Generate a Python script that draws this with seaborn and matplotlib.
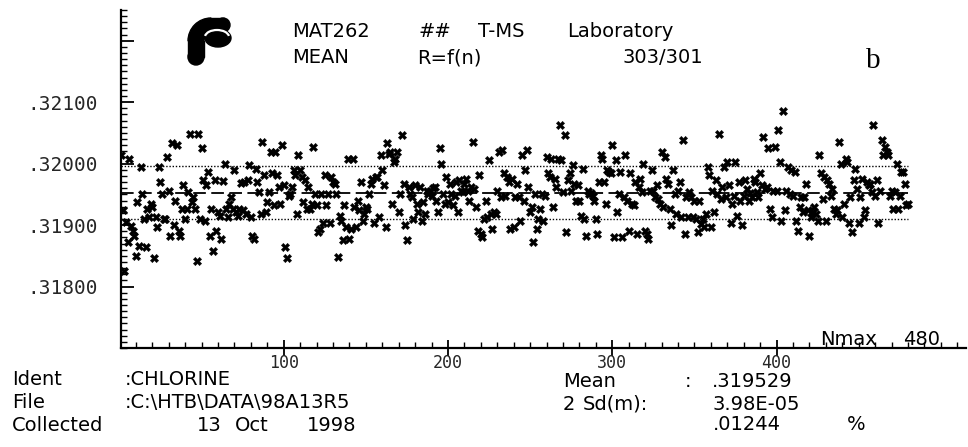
import numpy as np
import pandas as pd
import matplotlib
matplotlib.use("Agg")
import matplotlib.pyplot as plt
import seaborn as sns
from matplotlib.ticker import MultipleLocator, FixedLocator
from matplotlib.patches import Wedge, Rectangle, Circle, Ellipse, Arc

# ---- data (ratio R = BASE + offset * UNIT) ----
BASE = 0.31900
UNIT = 1e-5

offsets_n001_094 = [
    114, 24, -75, 5, -28, 108, -1, -9, -17, -50,
    37, -34, 94, 51, 10, -36, 26, 13, 34, 29,
    -53, 13, -3, 94, 70, 51, 10, 10, 111, 56,
    -17, 133, 0, 40, 130, -9, -17, 26, 65, 10,
    26, 54, 149, 37, 45, 26, -58, 149, 10, 125,
    73, 7, 65, 86, -17, 26, -42, 74, -9, 21,
    15, -23, 72, 100, 26, 13, 34, 45, 26, 89,
    21, 15, 26, 68, 24, 70, 18, 73, 97, 13,
    -17, -23, 92, 70, 54, 18, 136, 81, 21, 37,
    54, 119, 84, 32]

offsets_n095_191 = [
    119, 81, 62, 35, 130, 65, -35, -54, 48, 51,
    62, 89, 81, 18, 114, 89, 78, 37, 73, 26,
    62, 26, 34, 127, 51, 32, -12, -6, 51, 4,
    81, 32, 51, 4, 78, 70, 67, 51, -52, 15,
    7, -25, 32, -3, 108, -23, -6, 108, 29, -3,
    40, 24, 70, 7, 18, 29, 26, 51, 67, 75,
    4, 78, 78, 13, 114, 89, 65, -3, 133, 116,
    119, 34, 103, 108, 119, 21, 51, 146, 67, 0,
    -25, 62, 51, 45, 10, 65, 34, 21, 62, 7,
    37, 18, 56, 50, 55, 48, 60]

offsets_n192_288 = [
    62, 40, 21, 125, 100, 51, 35, 78, 37, 67,
    51, 32, 48, 70, 21, 73, 56, 54, 67, 75,
    56, 40, 62, 136, 59, 29, -9, 81, -15, -20,
    10, 40, 13, 106, 18, -6, 21, 18, 56, 119,
    45, 122, 84, 48, 78, 70, -6, 75, -3, 45,
    67, 45, 7, 114, 40, 89, 122, 62, 21, 29,
    -28, 51, -6, 10, 26, 51, 7, 48, 111, 84,
    78, 108, 29, 75, 62, 108, 163, 106, 54, 146,
    -12, 73, 84, 56, 97, 67, 40, 65, 40, 15,
    92, 10, -17, 56, 50, 53, 47]

offsets_n289_385 = [
    40, 10, -15, 70, 114, 108, 70, 34, 89, 86,
    84, 130, -20, 106, 21, 51, 86, -20, 45, 114,
    40, -9, 84, 34, 32, 70, -15, 62, 75, 54,
    100, -9, -15, -23, 56, 89, 56, 45, 65, 43,
    34, 119, 29, 111, 75, 67, 26, 0, 89, 51,
    18, 56, 70, 13, 138, -15, 45, 13, 54, 45,
    13, 40, 10, -12, 40, 2, 10, -3, 18, 95,
    81, -3, 56, 21, 73, 51, 149, 43, 62, 95,
    45, 103, 65, 4, 34, 48, 103, 15, 70, 40,
    0, 48, 73, 59, 40, 52, 46]

offsets_n386_480 = [
    75, 70, 54, 45, 84, 65, 144, 59, 62, 125,
    26, 13, 56, 127, 56, 155, 103, 7, 185, 24,
    56, 95, 51, 89, 48, 86, 7, -9, 29, 45,
    21, 45, 67, 24, -17, 13, 21, 29, 18, 7,
    114, 84, 43, 78, 7, 73, 67, 48, 59, 26,
    18, 24, 136, 100, 13, 34, 108, 103, 4, 45,
    -12, 73, 92, 59, 4, 45, 75, 13, 24, 70,
    65, 67, 54, 163, 48, 73, 4, 56, 138, 114,
    127, 119, 114, 48, 56, 26, 54, 100, 26, 48,
    86, 86, 67, 32, 34]

MEAN = 0.319529          # dashed centre line
BAND = 0.000427          # dotted lines at MEAN +/- BAND
Y_TICKS = [0.318, 0.319, 0.320, 0.321, 0.322]
Y_TICK_LABELS = [".31800", ".31900", ".32000", ".32100", ""]
X_TICKS = [100, 200, 300, 400]
X_TICK_LABELS = ["100", "200", "300", "400"]

offsets = (offsets_n001_094 + offsets_n095_191 + offsets_n192_288
           + offsets_n289_385 + offsets_n386_480)
values = BASE + UNIT * np.array(offsets, dtype=float)
n = np.arange(1, len(values) + 1)
df = pd.DataFrame({"n": n, "R": values})

# ---- figure ----
sns.set_style("ticks")
plt.rcParams["font.family"] = ["DejaVu Sans"]
plt.rcParams.update({
    "xtick.minor.visible": True, "ytick.minor.visible": True,
    "xtick.minor.size": 4, "ytick.minor.size": 4,
    "xtick.minor.width": 1.0, "ytick.minor.width": 1.0,
    "xtick.direction": "in", "ytick.direction": "in",
})
fig = plt.figure(figsize=(9.68, 4.47), dpi=100)
ax = fig.add_axes([121 / 968, 99 / 447, 845 / 968, 338 / 447])

ax.hlines([MEAN - BAND, MEAN + BAND], 1, len(values), colors="black",
          linestyles=(0, (1, 1.3)), lw=1.0, zorder=2)
ax.hlines(MEAN, 1, len(values), colors="black",
          linestyles=(0, (7, 3)), lw=1.3, zorder=2)
sns.scatterplot(data=df, x="n", y="R", ax=ax, marker="X", s=36,
                color="black", edgecolor="black", linewidth=0.3,
                zorder=3, legend=False)

ax.set_xlim(1, 515.3)
ax.set_ylim(0.3170, 0.3225)
ax.set_xlabel("")
ax.set_ylabel("")
for s in ["top", "right"]:
    ax.spines[s].set_visible(False)
for s in ["left", "bottom"]:
    ax.spines[s].set_linewidth(1.6)
    ax.spines[s].set_color("black")

ax.minorticks_on()
ax.yaxis.set_major_locator(FixedLocator(Y_TICKS))
ax.yaxis.set_minor_locator(MultipleLocator(0.0001))
ax.set_yticklabels(Y_TICK_LABELS, fontfamily="DejaVu Sans Mono", fontsize=14)
ax.xaxis.set_major_locator(FixedLocator(X_TICKS))
ax.xaxis.set_minor_locator(MultipleLocator(10))
ax.set_xticklabels(X_TICK_LABELS, fontfamily="DejaVu Sans Mono", fontsize=12)

ax.yaxis.set_tick_params(which="major", left=True, right=False, direction="in",
                         length=9, width=1.3, pad=17, color="black")
ax.yaxis.set_tick_params(which="minor", left=True, right=False, direction="in",
                         length=4, width=1.0, color="black")
ax.xaxis.set_tick_params(which="major", bottom=True, top=False, direction="inout",
                         length=12, width=1.3, pad=-2, color="black")
ax.xaxis.set_tick_params(which="minor", bottom=True, top=False, direction="in",
                         length=4, width=1.0, color="black")

# ---- overlay in pixel coordinates for header/footer text and logo ----
ov = fig.add_axes([0, 0, 1, 1])
ov.set_xlim(0, 968)
ov.set_ylim(447, 0)
ov.axis("off")
ov.patch.set_visible(False)

def t(x, y, s, size=14, **kw):
    ov.text(x, y, s, fontsize=size, ha="left", va="baseline",
            color="black", **kw)

# logo
ov.add_patch(Wedge((211, 41), 23, 180, 270, width=16, color="black"))
ov.add_patch(Rectangle((188, 41), 16, 16, color="black"))
ov.add_patch(Circle((196, 57), 8, color="black"))
ov.add_patch(Rectangle((210, 18), 14, 14, color="black"))
ov.add_patch(Circle((223, 25), 7, color="black"))
ov.add_patch(Ellipse((218, 38), 26, 18, color="black"))
ov.add_patch(Arc((217, 37), 24, 14, theta1=185, theta2=355, color="white", lw=1.6))

# header
t(292, 37, "MAT262")
t(418, 37, "##")
t(478, 37, "T-MS")
t(567, 37, "Laboratory")
t(292, 63, "MEAN")
t(417, 63, "R=f(n)")
t(623, 63, "303/301")
t(866, 68, "b", size=21, family="Liberation Serif")

# footer left
t(12, 385, "Ident")
t(125, 385, ":CHLORINE")
t(12, 408, "File")
t(125, 408, ":C:\\HTB\\DATA\\98A13R5")
t(12, 431, "Collected")
t(197, 431, "13")
t(235, 431, "Oct")
t(307, 431, "1998")

# footer right
t(820, 345, "Nmax")
t(903, 345, f"{len(values)}")
t(563, 387, "Mean")
t(685, 387, ":")
t(712, 387, f"{MEAN:.6f}".lstrip("0"))
t(563, 410, "2")
t(583, 410, "Sd(m):")
t(712, 410, "3.98E-05")
t(713, 430, ".01244")
t(847, 430, "%")

fig.savefig("out.png", dpi=100)
